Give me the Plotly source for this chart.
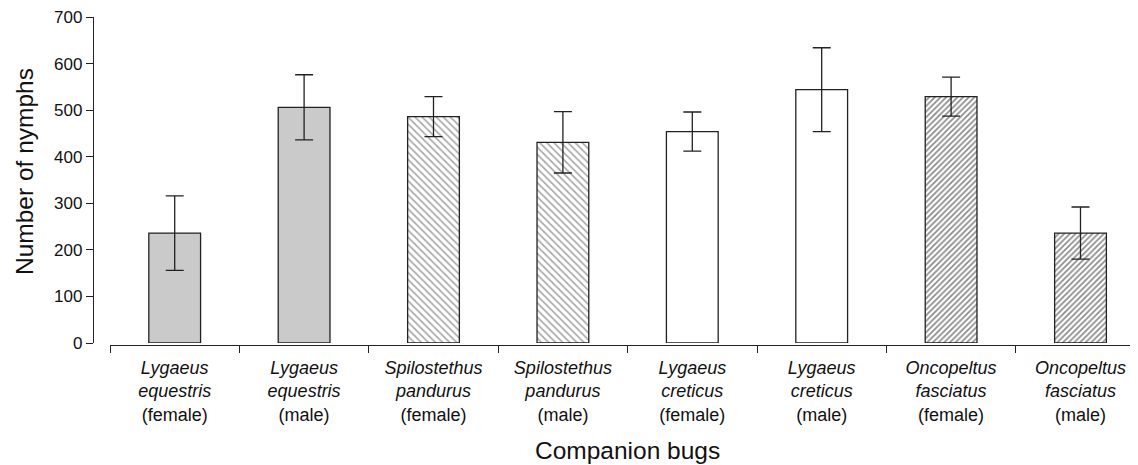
import plotly.graph_objects as go

categories = [
    "<i>Lygaeus</i><br><i>equestris</i><br>(female)",
    "<i>Lygaeus</i><br><i>equestris</i><br>(male)",
    "<i>Spilostethus</i><br><i>pandurus</i><br>(female)",
    "<i>Spilostethus</i><br><i>pandurus</i><br>(male)",
    "<i>Lygaeus</i><br><i>creticus</i><br>(female)",
    "<i>Lygaeus</i><br><i>creticus</i><br>(male)",
    "<i>Oncopeltus</i><br><i>fasciatus</i><br>(female)",
    "<i>Oncopeltus</i><br><i>fasciatus</i><br>(male)",
]
nymphs = [236, 506, 486, 431, 454, 544, 529, 236]
errors = [80, 70, 43, 66, 42, 90, 42, 56]
y_ticks = [0, 100, 200, 300, 400, 500, 600, 700]

# bar groups by fill style (indices into the lists above)
groups = [
    dict(idx=[0, 1], color="#c9cac9", shape="", fg="#999", size=6, solidity=0.3),
    dict(idx=[2, 3], color="white", shape="\\", fg="#a6a6a6", size=5, solidity=0.32),
    dict(idx=[4, 5], color="white", shape="", fg="#999", size=6, solidity=0.3),
    dict(idx=[6, 7], color="white", shape="/", fg="#8a8a8a", size=4, solidity=0.42),
]

W, H = 1138, 465
OFF = 8  # page body offset
font = "Liberation Sans, Arial, Helvetica, sans-serif"


def px_x(p):
    return (p - OFF) / W


def px_y(p):
    return 1 - (p - OFF) / H


fig = go.Figure()
for g in groups:
    fig.add_trace(go.Bar(
        x=[categories[i] for i in g["idx"]],
        y=[nymphs[i] for i in g["idx"]],
        width=0.40,
        marker=dict(
            color=g["color"],
            line=dict(color="#222", width=1.3),
            pattern=dict(shape=g["shape"], fgcolor=g["fg"], bgcolor=g["color"],
                         size=g["size"], solidity=g["solidity"]),
        ),
        error_y=dict(type="data", array=[errors[i] for i in g["idx"]], visible=True,
                     color="#222", thickness=1.3, width=9),
        showlegend=False,
    ))

x0 = 110
cat_w = 129.4
fig.update_layout(
    template="none",
    barmode="overlay",
    width=W, height=H,
    margin=dict(l=0, r=0, t=0, b=0, pad=0),
    plot_bgcolor="white", paper_bgcolor="white",
    font=dict(family=font, color="#111"),
    xaxis=dict(
        type="category",
        categoryorder="array", categoryarray=categories,
        domain=[px_x(x0), 1.0],
        range=[-0.5, -0.5 + (W + OFF - x0) / cat_w],
        tickson="boundaries",
        anchor="free",
        position=px_y(345),
        automargin=False,
        ticklabelstandoff=6,
        ticklabeloverflow="allow",
        showline=True, linecolor="#222", linewidth=1.3,
        ticks="outside", ticklen=7, tickwidth=1.3, tickcolor="#222",
        showgrid=False, zeroline=False,
        tickfont=dict(size=18, family=font, color="#111"),
    ),
    yaxis=dict(
        domain=[px_y(343), px_y(17)],
        range=[0, 700],
        tickmode="array",
        tickvals=y_ticks,
        anchor="free",
        position=px_x(93),
        automargin=False,
        ticklabeloverflow="allow",
        showline=True, linecolor="#222", linewidth=1.3,
        ticks="outside", ticklen=7, tickwidth=1.3, tickcolor="#222",
        showgrid=False, zeroline=False,
        tickfont=dict(size=17, family=font, color="#111"),
    ),
    annotations=[
        dict(text="Companion bugs", xref="paper", yref="paper",
             x=px_x(x0 + 4 * cat_w), y=px_y(450), showarrow=False,
             font=dict(size=24.5, family=font, color="#111"),
             xanchor="center", yanchor="middle"),
        dict(text="Number of nymphs", xref="paper", yref="paper",
             x=px_x(24), y=px_y(172), showarrow=False, textangle=-90,
             font=dict(size=24.5, family=font, color="#111"),
             xanchor="center", yanchor="middle"),
    ],
)

fig.write_html("out.html")
